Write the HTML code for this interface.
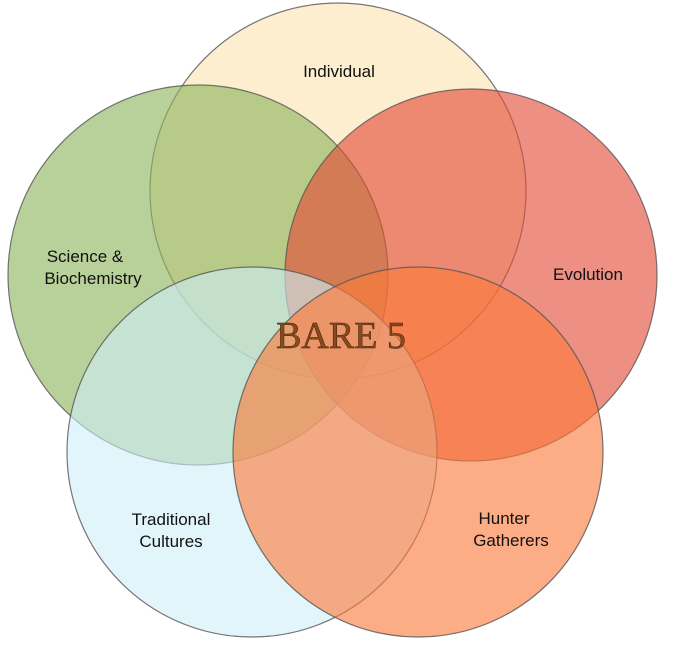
<!DOCTYPE html>
<html><head><meta charset="utf-8"><style>
html,body{margin:0;padding:0;background:#fff;width:678px;height:653px;overflow:hidden}
text{font-family:"Liberation Sans",sans-serif;font-size:17px;fill:#111}
</style></head><body>
<svg width="678" height="653" viewBox="0 0 678 653" xmlns="http://www.w3.org/2000/svg">
<g stroke="#555" stroke-width="1.2" stroke-opacity="0.8">
<circle cx="338" cy="191" r="188" fill="#fbe3b0" fill-opacity="0.6"/>
<circle cx="198" cy="275" r="190" fill="#8db35a" fill-opacity="0.62"/>
<circle cx="471" cy="275" r="186" fill="#e24a35" fill-opacity="0.62"/>
<circle cx="252" cy="452" r="185" fill="#cdeef8" fill-opacity="0.6"/>
<circle cx="418" cy="452" r="185" fill="#fb7a3a" fill-opacity="0.62"/>
</g>
<text x="339" y="77" text-anchor="middle">Individual</text>
<text x="85" y="262" text-anchor="middle">Science &amp;</text>
<text x="93" y="284" text-anchor="middle">Biochemistry</text>
<text x="588" y="280" text-anchor="middle">Evolution</text>
<text x="171" y="525" text-anchor="middle">Traditional</text>
<text x="171" y="547" text-anchor="middle">Cultures</text>
<text x="504" y="524" text-anchor="middle">Hunter</text>
<text x="511" y="546" text-anchor="middle">Gatherers</text>
<text x="341" y="348" text-anchor="middle" style="font-family:'Liberation Serif',serif;font-size:38px;fill:#8a4a20;stroke:#3a1c08;stroke-width:0.5">BARE 5</text>
</svg>
</body></html>
